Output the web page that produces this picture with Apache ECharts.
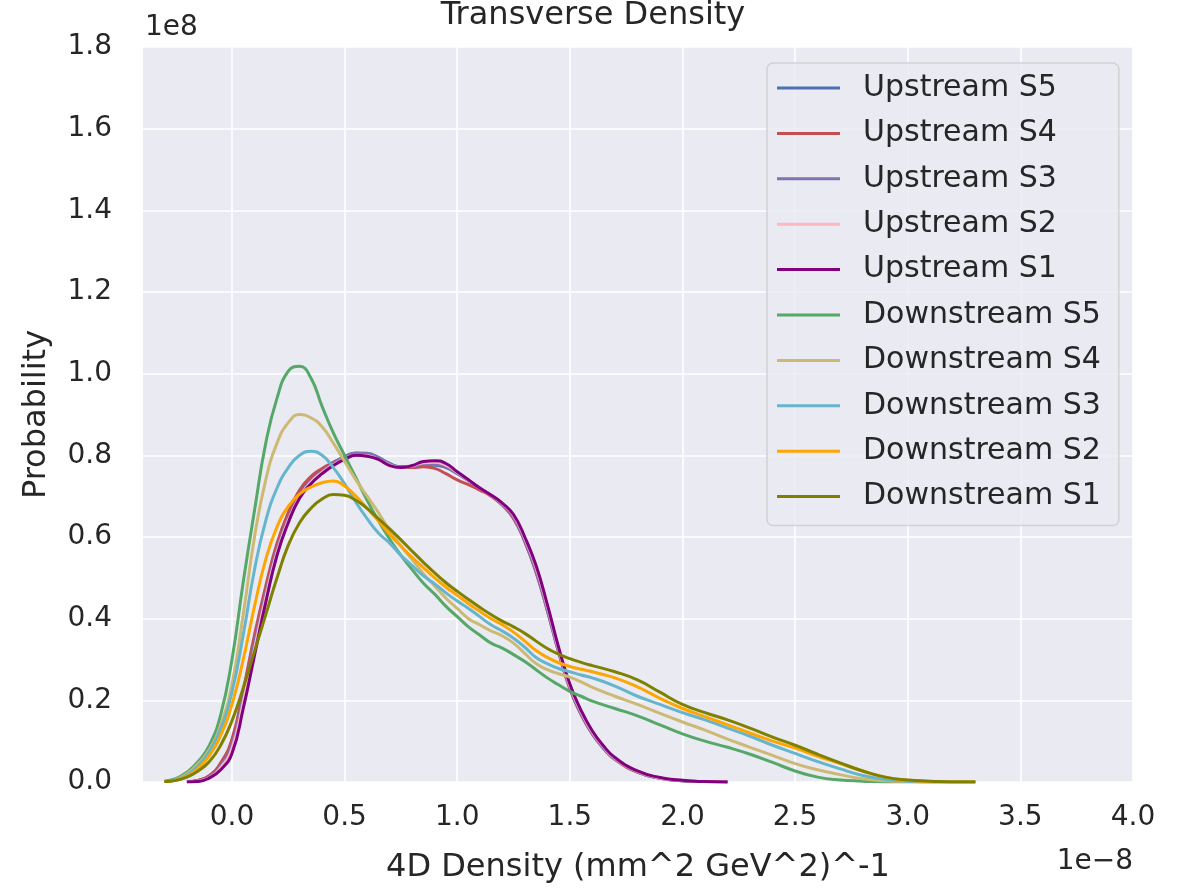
<!DOCTYPE html>
<html>
<head>
<meta charset="utf-8">
<title>Transverse Density</title>
<script src="https://cdn.jsdelivr.net/npm/echarts@6/dist/echarts.min.js"></script>
<style>
  html, body { margin: 0; padding: 0; background: #ffffff; }
  #chart { width: 1186px; height: 891px; }
</style>
</head>
<body>
<div id="chart"></div>
<script>
// Sample positions (units of 1e-8): fine steps through the peaks, coarser along the tails
const xDown = [-0.30, -0.25, -0.20, -0.15, -0.10, -0.05, 0.00, 0.05, 0.10, 0.15, 0.20, 0.25, 0.30, 0.35, 0.40, 0.45, 0.50, 0.55, 0.60, 0.65, 0.70, 0.75, 0.80, 0.85, 0.90, 0.95, 1.00, 1.05, 1.10, 1.15, 1.20, 1.25, 1.30, 1.35, 1.40, 1.45, 1.50, 1.55, 1.60,
               1.7, 1.8, 1.9, 2.0, 2.1, 2.2, 2.3, 2.4, 2.5, 2.6, 2.7, 2.8, 2.9, 3.0, 3.1, 3.2, 3.3];
const xUp = [-0.20, -0.15, -0.10, -0.05, 0.00, 0.05, 0.10, 0.15, 0.20, 0.25, 0.30, 0.35, 0.40, 0.45, 0.50, 0.55, 0.60, 0.65, 0.70, 0.75, 0.80, 0.85, 0.90, 0.95, 1.00, 1.05, 1.10, 1.15, 1.20, 1.25, 1.30, 1.35, 1.40, 1.45, 1.50, 1.55, 1.60, 1.65, 1.70,
             1.8, 1.9, 2.0, 2.1, 2.2];

// Probability density (units of 1e8)
const upstreamS5 = [0.001, 0.004, 0.015, 0.045, 0.10, 0.22, 0.35, 0.47, 0.575, 0.65, 0.705, 0.74, 0.763, 0.782, 0.797, 0.806, 0.805, 0.795, 0.78, 0.772, 0.772, 0.776, 0.776, 0.77, 0.755, 0.738, 0.72, 0.702, 0.68, 0.65, 0.593, 0.52, 0.425, 0.322, 0.232, 0.168, 0.12, 0.084, 0.057,
                    0.025, 0.01, 0.003, 0.001, 0.0];
const upstreamS4 = [0.001, 0.004, 0.016, 0.047, 0.105, 0.225, 0.36, 0.48, 0.585, 0.66, 0.715, 0.748, 0.768, 0.783, 0.795, 0.80, 0.799, 0.79, 0.778, 0.77, 0.77, 0.772, 0.768, 0.755, 0.74, 0.728, 0.715, 0.70, 0.678, 0.645, 0.588, 0.513, 0.42, 0.318, 0.228, 0.165, 0.117, 0.082, 0.055,
                    0.024, 0.009, 0.003, 0.001, 0.0];
const upstreamS3 = [0.001, 0.003, 0.013, 0.04, 0.092, 0.21, 0.34, 0.462, 0.57, 0.645, 0.70, 0.737, 0.76, 0.78, 0.796, 0.805, 0.804, 0.795, 0.78, 0.772, 0.773, 0.778, 0.778, 0.772, 0.757, 0.738, 0.72, 0.702, 0.68, 0.648, 0.59, 0.515, 0.42, 0.318, 0.23, 0.166, 0.118, 0.082, 0.056,
                    0.024, 0.009, 0.003, 0.001, 0.0];
const upstreamS2 = [0.0, 0.002, 0.011, 0.035, 0.082, 0.195, 0.325, 0.452, 0.562, 0.64, 0.698, 0.734, 0.758, 0.777, 0.792, 0.80, 0.799, 0.79, 0.776, 0.77, 0.774, 0.782, 0.783, 0.776, 0.758, 0.739, 0.72, 0.703, 0.682, 0.653, 0.597, 0.525, 0.43, 0.326, 0.236, 0.172, 0.122, 0.086, 0.058,
                    0.026, 0.01, 0.004, 0.001, 0.0];
const upstreamS1 = [0.0, 0.001, 0.01, 0.03, 0.07, 0.18, 0.31, 0.44, 0.555, 0.635, 0.695, 0.73, 0.755, 0.775, 0.79, 0.80, 0.798, 0.79, 0.775, 0.77, 0.775, 0.785, 0.787, 0.78, 0.76, 0.74, 0.72, 0.703, 0.683, 0.655, 0.60, 0.53, 0.435, 0.33, 0.24, 0.175, 0.125, 0.088, 0.06,
                    0.027, 0.011, 0.004, 0.001, 0.0];

const downstreamS5 = [0.002, 0.008, 0.024, 0.05, 0.09, 0.165, 0.30, 0.49, 0.665, 0.83, 0.94, 1.006, 1.018, 0.99, 0.92, 0.855, 0.80, 0.745, 0.69, 0.64, 0.595, 0.555, 0.52, 0.487, 0.46, 0.43, 0.405, 0.38, 0.36, 0.34, 0.328, 0.312, 0.295, 0.275, 0.255, 0.238, 0.222, 0.21, 0.198,
                      0.18, 0.162, 0.14, 0.118, 0.10, 0.085, 0.068, 0.048, 0.027, 0.012, 0.005, 0.002, 0.0, 0.0, 0.0, 0.0, 0.0];
const downstreamS4 = [0.001, 0.006, 0.02, 0.045, 0.08, 0.14, 0.24, 0.41, 0.60, 0.74, 0.83, 0.88, 0.90, 0.892, 0.87, 0.83, 0.785, 0.74, 0.70, 0.66, 0.615, 0.578, 0.545, 0.51, 0.48, 0.45, 0.425, 0.40, 0.385, 0.37, 0.358, 0.34, 0.315, 0.29, 0.275, 0.265, 0.257, 0.245, 0.232,
                      0.21, 0.19, 0.168, 0.147, 0.127, 0.105, 0.085, 0.065, 0.045, 0.03, 0.018, 0.008, 0.003, 0.001, 0.0, 0.0, 0.0];
const downstreamS3 = [0.001, 0.005, 0.017, 0.04, 0.075, 0.13, 0.22, 0.36, 0.52, 0.64, 0.72, 0.77, 0.80, 0.81, 0.80, 0.77, 0.73, 0.685, 0.645, 0.61, 0.585, 0.555, 0.53, 0.505, 0.485, 0.463, 0.443, 0.425, 0.405, 0.385, 0.37, 0.352, 0.33, 0.305, 0.29, 0.278, 0.27, 0.262, 0.255,
                      0.235, 0.21, 0.19, 0.17, 0.152, 0.132, 0.112, 0.09, 0.07, 0.05, 0.032, 0.016, 0.006, 0.002, 0.0, 0.0, 0.0];
const downstreamS2 = [0.001, 0.004, 0.014, 0.033, 0.065, 0.115, 0.19, 0.30, 0.43, 0.545, 0.625, 0.675, 0.705, 0.722, 0.733, 0.737, 0.725, 0.70, 0.67, 0.64, 0.607, 0.578, 0.55, 0.525, 0.50, 0.477, 0.457, 0.437, 0.418, 0.40, 0.385, 0.367, 0.345, 0.322, 0.305, 0.292, 0.283, 0.276, 0.27,
                      0.255, 0.233, 0.205, 0.18, 0.16, 0.14, 0.12, 0.10, 0.083, 0.063, 0.045, 0.027, 0.012, 0.004, 0.001, 0.0, 0.0];
const downstreamS1 = [0.001, 0.004, 0.012, 0.027, 0.05, 0.09, 0.15, 0.23, 0.32, 0.41, 0.50, 0.58, 0.635, 0.67, 0.693, 0.704, 0.702, 0.69, 0.67, 0.645, 0.62, 0.593, 0.565, 0.538, 0.512, 0.488, 0.467, 0.447, 0.428, 0.41, 0.394, 0.38, 0.364, 0.345, 0.327, 0.313, 0.302, 0.293, 0.285,
                      0.27, 0.25, 0.22, 0.19, 0.17, 0.152, 0.132, 0.11, 0.09, 0.068, 0.047, 0.027, 0.012, 0.005, 0.002, 0.0, 0.0];

const xTickValues = [0.0, 0.5, 1.0, 1.5, 2.0, 2.5, 3.0, 3.5, 4.0];

const seriesDefs = [
  { name: 'Upstream S5', x: xUp, y: upstreamS5, color: '#4c72b0' },
  { name: 'Upstream S4', x: xUp, y: upstreamS4, color: '#c44e52' },
  { name: 'Upstream S3', x: xUp, y: upstreamS3, color: '#8172b2' },
  { name: 'Upstream S2', x: xUp, y: upstreamS2, color: '#ffb6c1' },
  { name: 'Upstream S1', x: xUp, y: upstreamS1, color: '#800080' },
  { name: 'Downstream S5', x: xDown, y: downstreamS5, color: '#55a868' },
  { name: 'Downstream S4', x: xDown, y: downstreamS4, color: '#ccb974' },
  { name: 'Downstream S3', x: xDown, y: downstreamS3, color: '#64b5cd' },
  { name: 'Downstream S2', x: xDown, y: downstreamS2, color: '#ffa500' },
  { name: 'Downstream S1', x: xDown, y: downstreamS1, color: '#808000' }
];

const FONT = 'DejaVu Sans';
const INK = '#262626';

const chart = echarts.init(document.getElementById('chart'), null, { renderer: 'canvas' });

chart.setOption({
  animation: false,
  backgroundColor: '#ffffff',
  textStyle: { fontFamily: FONT, color: INK },
  title: {
    text: 'Transverse Density',
    left: 'center',
    top: 0,
    padding: 0,
    textStyle: { fontFamily: FONT, fontSize: 32, fontWeight: 'normal', color: INK }
  },
  grid: {
    left: 143, right: 53, top: 47, bottom: 109,
    show: true, backgroundColor: '#eaeaf2', borderWidth: 0
  },
  legend: {
    orient: 'vertical',
    left: 767, top: 63,
    padding: [10, 18, 14, 10],
    itemWidth: 63, itemHeight: 3,
    itemGap: 15.4,
    icon: 'rect',
    backgroundColor: 'rgba(234,234,242,0.8)',
    borderColor: 'rgba(204,204,204,0.8)',
    borderWidth: 1.5,
    borderRadius: 6,
    textStyle: { fontFamily: FONT, fontSize: 30, color: INK, lineHeight: 30, padding: [0, 0, 0, 18] },
    data: seriesDefs.map(s => s.name)
  },
  xAxis: {
    type: 'value',
    min: -0.395, max: 4.0,
    name: '4D Density (mm^2 GeV^2)^-1',
    nameLocation: 'middle',
    nameGap: 70,
    nameTextStyle: { fontFamily: FONT, fontSize: 32, color: INK },
    axisLine: { show: false },
    axisTick: { show: false, customValues: xTickValues },
    axisLabel: {
      customValues: xTickValues,
      margin: 22,
      fontFamily: FONT, fontSize: 28, color: INK,
      formatter: v => v.toFixed(1)
    },
    splitLine: { show: true, lineStyle: { color: '#ffffff', width: 1.6 } }
  },
  yAxis: {
    type: 'value',
    min: 0, max: 1.8, interval: 0.2,
    name: 'Probability',
    nameLocation: 'middle',
    nameGap: 90,
    nameTextStyle: { fontFamily: FONT, fontSize: 32, color: INK },
    axisLine: { show: false },
    axisTick: { show: false },
    axisLabel: {
      margin: 31,
      fontFamily: FONT, fontSize: 28, color: INK,
      formatter: v => v.toFixed(1)
    },
    splitLine: { show: true, lineStyle: { color: '#ffffff', width: 1.6 } }
  },
  graphic: [
    {
      type: 'text', left: 145, top: 14, silent: true,
      style: { text: '1e8', fontFamily: FONT, fontSize: 28, fill: INK }
    },
    {
      type: 'text', right: 53, top: 848, silent: true,
      style: { text: '1e\u22128', fontFamily: FONT, fontSize: 28, fill: INK }
    }
  ],
  series: seriesDefs.map(s => ({
    name: s.name,
    type: 'line',
    data: s.x.map((v, i) => [v, s.y[i]]),
    showSymbol: false,
    smooth: 0.5,
    color: s.color,
    lineStyle: { color: s.color, width: 3 },
    emphasis: { disabled: true }
  }))
});
</script>
</body>
</html>
